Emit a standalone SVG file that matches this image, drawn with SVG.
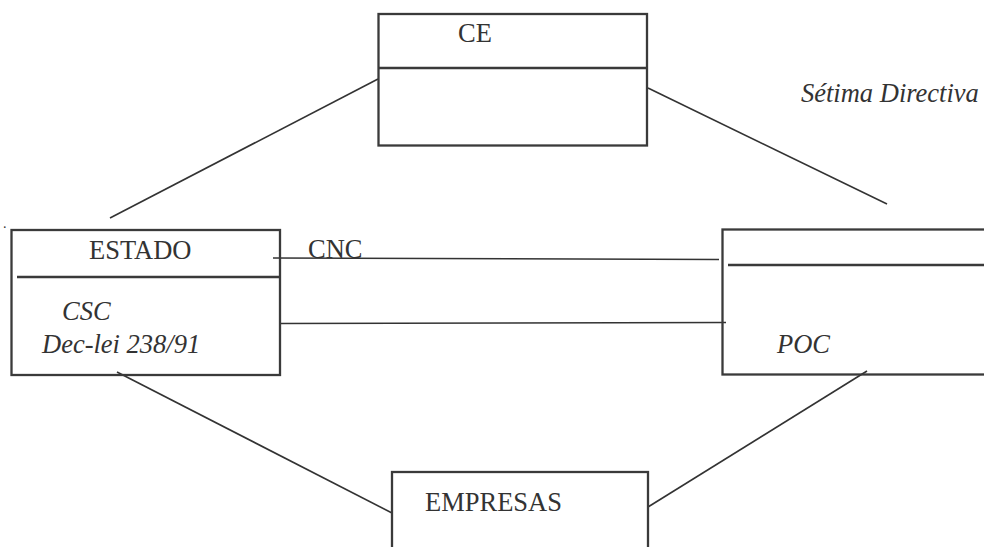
<svg xmlns="http://www.w3.org/2000/svg" width="984" height="547" viewBox="0 0 984 547">
<style>
.box{fill:none;stroke:#3a3a3a;stroke-width:2.3}
.div{stroke:#3a3a3a;stroke-width:2.3}
.ln{stroke:#333;stroke-width:1.6;fill:none}
.i{font-style:italic}
</style>
<rect width="984" height="547" fill="#fff"/>
<g id="connectors">
<line class="ln" x1="378" y1="79" x2="110" y2="218"/>
<line class="ln" x1="648" y1="88" x2="887" y2="204"/>
<line class="ln" x1="273" y1="258" x2="719" y2="259.5"/>
<line class="ln" x1="280" y1="323.5" x2="726" y2="322.5"/>
<line class="ln" x1="117" y1="372" x2="392" y2="513"/>
<line class="ln" x1="648" y1="507" x2="867" y2="371"/>
</g>
<g font-family="Liberation Serif, Times New Roman, serif" font-size="26.5" fill="#333">
<g id="ce">
<rect class="box" x="378.5" y="14" width="268.5" height="131.5"/>
<line class="div" x1="378.5" y1="68" x2="647" y2="68"/>
<text x="458" y="42">CE</text>
</g>
<g id="estado">
<rect class="box" x="11.5" y="230" width="268.5" height="145"/>
<line class="div" x1="17" y1="277" x2="280" y2="277"/>
<text x="89" y="259">ESTADO</text>
<text class="i" x="62" y="320">CSC</text>
<text class="i" x="42" y="353">Dec-lei 238/91</text>
</g>
<g id="poc">
<rect class="box" x="722.5" y="229.5" width="300" height="145"/>
<line class="div" x1="728" y1="265" x2="984" y2="265"/>
<text class="i" x="777" y="353">POC</text>
</g>
<g id="empresas">
<rect class="box" x="392" y="472" width="256" height="100"/>
<text x="425" y="511">EMPRESAS</text>
</g>
<g id="labels">
<text x="308" y="258">CNC</text>
<text class="i" x="801" y="102">Sétima Directiva</text>
<text x="3" y="228" font-size="14">.</text>
</g>
</g>
</svg>
